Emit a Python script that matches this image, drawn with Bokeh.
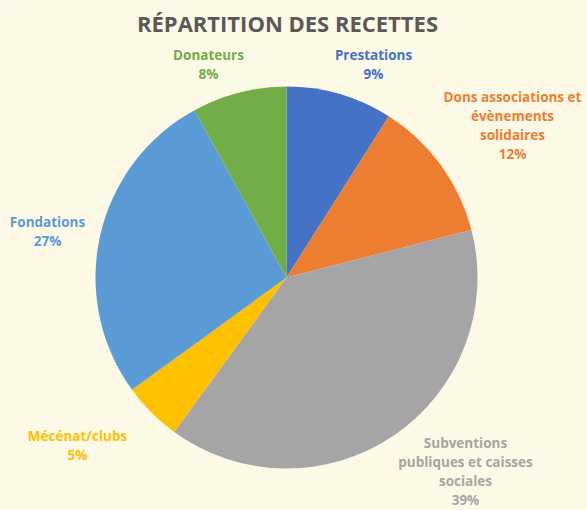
import numpy as np
from bokeh.plotting import figure
from bokeh.models import Range1d, ColumnDataSource
from bokeh.core.properties import value
from bokeh.embed import file_html
from bokeh.resources import INLINE

# ---- data ----
categories = ["Prestations", "Dons associations et\névènements\nsolidaires",
              "Subventions\npubliques et caisses\nsociales", "Mécénat/clubs",
              "Fondations", "Donateurs"]
shares = [9, 12, 39, 5, 27, 8]
colors = ["#4472C4", "#ED7D31", "#A5A5A5", "#FFC000", "#5B9BD5", "#70AD47"]
title_text = "RÉPARTITION DES RECETTES"

# ---- layout (pixel coords in picture space) ----
W, H = 587, 510
cx_pix, cy_pix, radius = 286, 277, 191
label_pos_pix = [(373, 64), (512, 125), (465, 471), (77, 445), (47, 231), (208, 64)]

def px(x):
    return x

def py(y):
    return H - y

vals = np.array(shares, dtype=float)
frac = vals / vals.sum()
cum = np.concatenate([[0], np.cumsum(frac)])
start = np.pi / 2 - 2 * np.pi * cum[:-1]
end = np.pi / 2 - 2 * np.pi * cum[1:]

src = ColumnDataSource(dict(start=start, end=end, color=colors))

p = figure(width=W, height=H, x_range=Range1d(0, W), y_range=Range1d(0, H),
           output_backend="svg", toolbar_location=None, min_border=0,
           background_fill_color="#FCFAE6", border_fill_color="#FCFAE6",
           outline_line_color=None)
p.axis.visible = False
p.grid.visible = False

p.wedge(x=px(cx_pix), y=py(cy_pix), radius=radius, start_angle="start", end_angle="end",
        direction="clock", fill_color="color", line_color=None, source=src)

labels = [f"{c}\n{s}%" for c, s in zip(categories, shares)]
lsrc = ColumnDataSource(dict(
    x=[px(a) for a, b in label_pos_pix],
    y=[py(b) for a, b in label_pos_pix],
    text=labels, color=colors))
p.text(x="x", y="y", text="text", text_color="color", source=lsrc,
       text_font=value("Open Sans"), text_font_style="bold", text_font_size="13.5px",
       text_align="center", text_baseline="middle", text_line_height=1.05)

p.text(x=[px(287)], y=[py(22)], text=[title_text], text_color="#595959",
       text_font=value("Open Sans"), text_font_style="bold", text_font_size="22px",
       text_align="center", text_baseline="middle")

open("out.html", "w").write(file_html(p, INLINE))
